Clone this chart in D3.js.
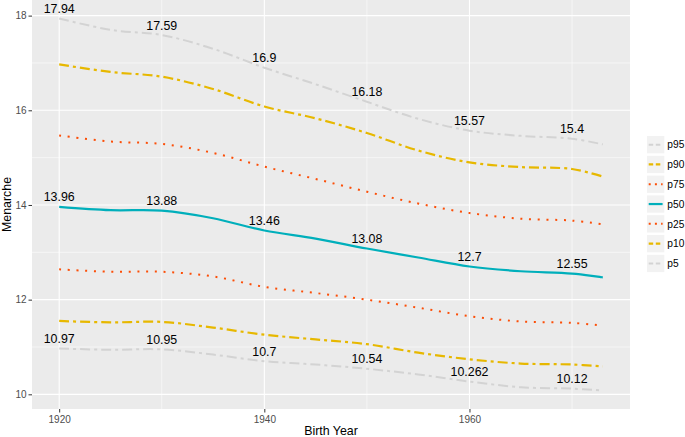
<!doctype html>
<html lang="en-US">
<head>
  <meta charset="utf-8">
  <title>Menarche by birth year</title>
  <script src="https://cdnjs.cloudflare.com/ajax/libs/d3/7.8.5/d3.min.js"></script>
  <style>
    html, body { margin: 0; padding: 0; background: #fff; }
    svg { display: block; }
    text { font-family: "Liberation Sans", Arial, sans-serif; }
  </style>
</head>
<body>
<svg id="chart" width="685" height="437"></svg>
<script>
// data
var years = [1920, 1925, 1930, 1935, 1940, 1945, 1950, 1955, 1960, 1965, 1970, 1973];
var p95 = [17.94, 17.70, 17.59, 17.30, 16.90, 16.55, 16.18, 15.82, 15.57, 15.46, 15.40, 15.28];
var p90 = [16.97, 16.81, 16.71, 16.45, 16.08, 15.83, 15.52, 15.15, 14.90, 14.80, 14.76, 14.60];
var p75 = [15.47, 15.34, 15.29, 15.10, 14.81, 14.55, 14.28, 14.03, 13.83, 13.71, 13.67, 13.59];
var p50 = [13.96, 13.89, 13.88, 13.72, 13.46, 13.29, 13.08, 12.89, 12.70, 12.60, 12.55, 12.47];
var p25 = [12.64, 12.59, 12.59, 12.49, 12.27, 12.14, 12.00, 11.83, 11.65, 11.54, 11.51, 11.45];
var p10 = [11.55, 11.52, 11.53, 11.41, 11.26, 11.16, 11.06, 10.88, 10.74, 10.65, 10.63, 10.59];
var p5  = [10.97, 10.94, 10.95, 10.84, 10.70, 10.63, 10.54, 10.42, 10.27, 10.15, 10.12, 10.08];

var labelYears = [1920, 1930, 1940, 1950, 1960, 1970];
var labels95 = [17.94, 17.59, 16.9, 16.18, 15.57, 15.4];
var labels50 = [13.96, 13.88, 13.46, 13.08, 12.7, 12.55];
var labels5  = [10.97, 10.95, 10.7, 10.54, 10.262, 10.12];

var xTicks = [1920, 1940, 1960];
var yTicks = [10, 12, 14, 16, 18];

var seriesNames = ["p95", "p90", "p75", "p50", "p25", "p10", "p5"];
var seriesValues = [p95, p90, p75, p50, p25, p10, p5];

var styles = {
  p95: { color: "#D3D3D3", dash: "10,4,3,4", width: 2 },
  p90: { color: "#E7B800", dash: "10,4,3,4", width: 2.2 },
  p75: { color: "#FC4E07", dash: "2,6.7", width: 2 },
  p50: { color: "#00AFBB", dash: null, width: 2.2 },
  p25: { color: "#FC4E07", dash: "2,6.7", width: 2 },
  p10: { color: "#E7B800", dash: "10,4,3,4", width: 2.2 },
  p5:  { color: "#D3D3D3", dash: "10,4,3,4", width: 2 }
};

var svg = d3.select("#chart");
var panel = { left: 32, right: 630, top: 0, bottom: 409 };

var x = d3.scaleLinear().domain([1917.35, 1975.65]).range([panel.left, panel.right]);
var y = d3.scaleLinear().domain([9.69, 18.33]).range([panel.bottom, panel.top]);

// panel background
svg.append("rect")
  .attr("x", panel.left).attr("y", panel.top)
  .attr("width", panel.right - panel.left).attr("height", panel.bottom - panel.top)
  .attr("fill", "#EBEBEB");

// minor grid
var g = svg.append("g");
[1930, 1950, 1970].forEach(function(v) {
  g.append("line").attr("x1", x(v)).attr("x2", x(v)).attr("y1", panel.top).attr("y2", panel.bottom)
    .attr("stroke", "#fff").attr("stroke-width", 0.55);
});
[11, 13, 15, 17].forEach(function(v) {
  g.append("line").attr("x1", panel.left).attr("x2", panel.right).attr("y1", y(v)).attr("y2", y(v))
    .attr("stroke", "#fff").attr("stroke-width", 0.55);
});
// major grid
xTicks.forEach(function(v) {
  g.append("line").attr("x1", x(v)).attr("x2", x(v)).attr("y1", panel.top).attr("y2", panel.bottom)
    .attr("stroke", "#fff").attr("stroke-width", 1.1);
});
yTicks.forEach(function(v) {
  g.append("line").attr("x1", panel.left).attr("x2", panel.right).attr("y1", y(v)).attr("y2", y(v))
    .attr("stroke", "#fff").attr("stroke-width", 1.1);
});

// axes
var xAxis = d3.axisBottom(x).tickValues(xTicks).tickSize(3.5).tickPadding(3).tickFormat(d3.format("d"));
var yAxis = d3.axisLeft(y).tickValues(yTicks).tickSize(3.5).tickPadding(2).tickFormat(d3.format("d"));

var gx = svg.append("g").attr("transform", "translate(0," + panel.bottom + ")").call(xAxis);
var gy = svg.append("g").attr("transform", "translate(" + panel.left + ",0)").call(yAxis);
[gx, gy].forEach(function(a) {
  a.select(".domain").remove();
  a.selectAll(".tick line").attr("stroke", "#333").attr("stroke-width", 1);
  a.selectAll(".tick text").attr("fill", "#4D4D4D").style("font-size", "10px")
    .style("font-family", "'Liberation Sans', Arial, sans-serif");
});

// lines, smoothed like the loess curves of the original
var line = d3.line()
  .x(function(d) { return x(d[0]); })
  .y(function(d) { return y(d[1]); })
  .curve(d3.curveCatmullRom.alpha(0.5));

seriesNames.forEach(function(name, i) {
  var s = styles[name];
  var pts = years.map(function(yr, j) { return [yr, seriesValues[i][j]]; });
  svg.append("path")
    .datum(pts)
    .attr("d", line)
    .attr("fill", "none")
    .attr("stroke", s.color)
    .attr("stroke-width", s.width)
    .attr("stroke-dasharray", s.dash);
});

// value labels
[labels95, labels50, labels5].forEach(function(arr) {
  svg.append("g").selectAll("text")
    .data(arr)
    .join("text")
    .attr("x", function(d, i) { return x(labelYears[i]); })
    .attr("y", function(d) { return y(d) - 5.5; })
    .attr("text-anchor", "middle")
    .style("font-size", "12.4px")
    .attr("fill", "#000")
    .text(function(d) { return String(d); });
});

// axis titles
svg.append("text")
  .attr("x", (panel.left + panel.right) / 2).attr("y", 435)
  .attr("text-anchor", "middle").style("font-size", "12.4px")
  .text("Birth Year");
svg.append("text")
  .attr("transform", "translate(10.5," + ((panel.top + panel.bottom) / 2) + ") rotate(-90)")
  .attr("text-anchor", "middle").style("font-size", "12.4px")
  .text("Menarche");

// legend
var legend = svg.append("g").attr("transform", "translate(647,136)");
seriesNames.forEach(function(name, i) {
  var s = styles[name];
  var row = legend.append("g").attr("transform", "translate(0," + (i * 19.8) + ")");
  row.append("rect").attr("width", 17.3).attr("height", 17.3).attr("fill", "#F2F2F2");
  row.append("line").attr("x1", 1.7).attr("x2", 15.6).attr("y1", 8.65).attr("y2", 8.65)
    .attr("stroke", s.color).attr("stroke-width", s.width)
    .attr("stroke-dasharray", s.dash ? (s.dash === "2,6.7" ? "2,4.2" : "4.5,2.6") : null);
  row.append("text").attr("x", 20.3).attr("y", 12.4)
    .style("font-size", "10.2px").attr("fill", "#000").text(name);
});
</script>
</body>
</html>
